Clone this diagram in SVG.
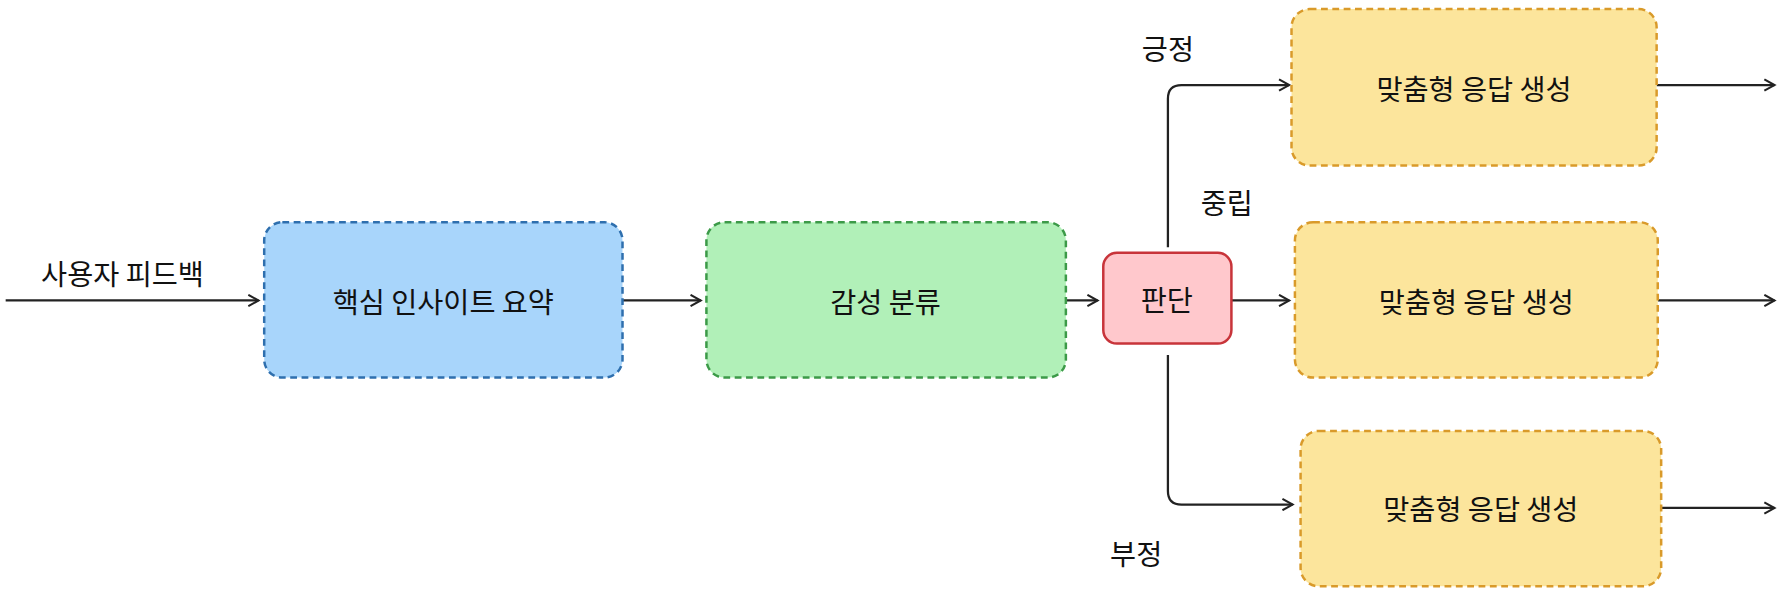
<svg xmlns="http://www.w3.org/2000/svg" width="1778" height="592" viewBox="0 0 1778 592">
<defs>
<marker id="ah" markerWidth="12" markerHeight="12" refX="10" refY="6" orient="auto" markerUnits="userSpaceOnUse"><path d="M1,1 L10,6 L1,11" fill="none" stroke="#222" stroke-width="1.8"/></marker>
<style>
text{font-family:"Noto Sans CJK KR","Noto Sans",sans-serif;font-size:25px;fill:#111;text-anchor:middle;dominant-baseline:central}
.c{fill:none;stroke:#222;stroke-width:2}
.n{stroke-width:2.2;stroke-dasharray:6 4}
</style>
</defs>
<rect width="1778" height="592" fill="#fff"/>
<g transform="scale(1.1339)">
<g id="connectors">
<line class="c" x1="5" y1="265" x2="228" y2="265" marker-end="url(#ah)"/>
<line class="c" x1="549" y1="265" x2="618" y2="265" marker-end="url(#ah)"/>
<line class="c" x1="940" y1="265" x2="968" y2="265" marker-end="url(#ah)"/>
<line class="c" x1="1086" y1="265" x2="1137" y2="265" marker-end="url(#ah)"/>
<path class="c" d="M1030,218 V87 Q1030,75 1042,75 H1137" marker-end="url(#ah)"/>
<path class="c" d="M1030,313 V433 Q1030,445 1042,445 H1140" marker-end="url(#ah)"/>
<line class="c" x1="1461" y1="75" x2="1565" y2="75" marker-end="url(#ah)"/>
<line class="c" x1="1462" y1="265" x2="1565" y2="265" marker-end="url(#ah)"/>
<line class="c" x1="1465" y1="448" x2="1565" y2="448" marker-end="url(#ah)"/>
<text x="108" y="240">사용자 피드백</text>
<text x="1030" y="42">긍정</text>
<text x="1082" y="178">중립</text>
<text x="1002" y="487">부정</text>
</g>
<g id="n1"><rect class="n" x="233" y="196" width="316" height="137" rx="16" fill="#a8d5fb" stroke="#2e6fae"/><text x="391" y="265">핵심 인사이트 요약</text></g>
<g id="n2"><rect class="n" x="623" y="196" width="317" height="137" rx="16" fill="#b1f0b8" stroke="#3c9a48"/><text x="781" y="265">감성 분류</text></g>
<g id="n3"><rect x="973" y="223" width="113" height="80" rx="12" fill="#ffc8cc" stroke="#c8343a" stroke-width="2.2"/><text x="1029" y="263">판단</text></g>
<g id="n4"><rect class="n" x="1139" y="8" width="322" height="138" rx="16" fill="#fce59c" stroke="#d99a2a"/><text x="1300" y="77">맞춤형 응답 생성</text></g>
<g id="n5"><rect class="n" x="1142" y="196" width="320" height="137" rx="16" fill="#fce59c" stroke="#d99a2a"/><text x="1302" y="265">맞춤형 응답 생성</text></g>
<g id="n6"><rect class="n" x="1147" y="380" width="318" height="137" rx="16" fill="#fce59c" stroke="#d99a2a"/><text x="1306" y="448">맞춤형 응답 생성</text></g>
</g>
</svg>
